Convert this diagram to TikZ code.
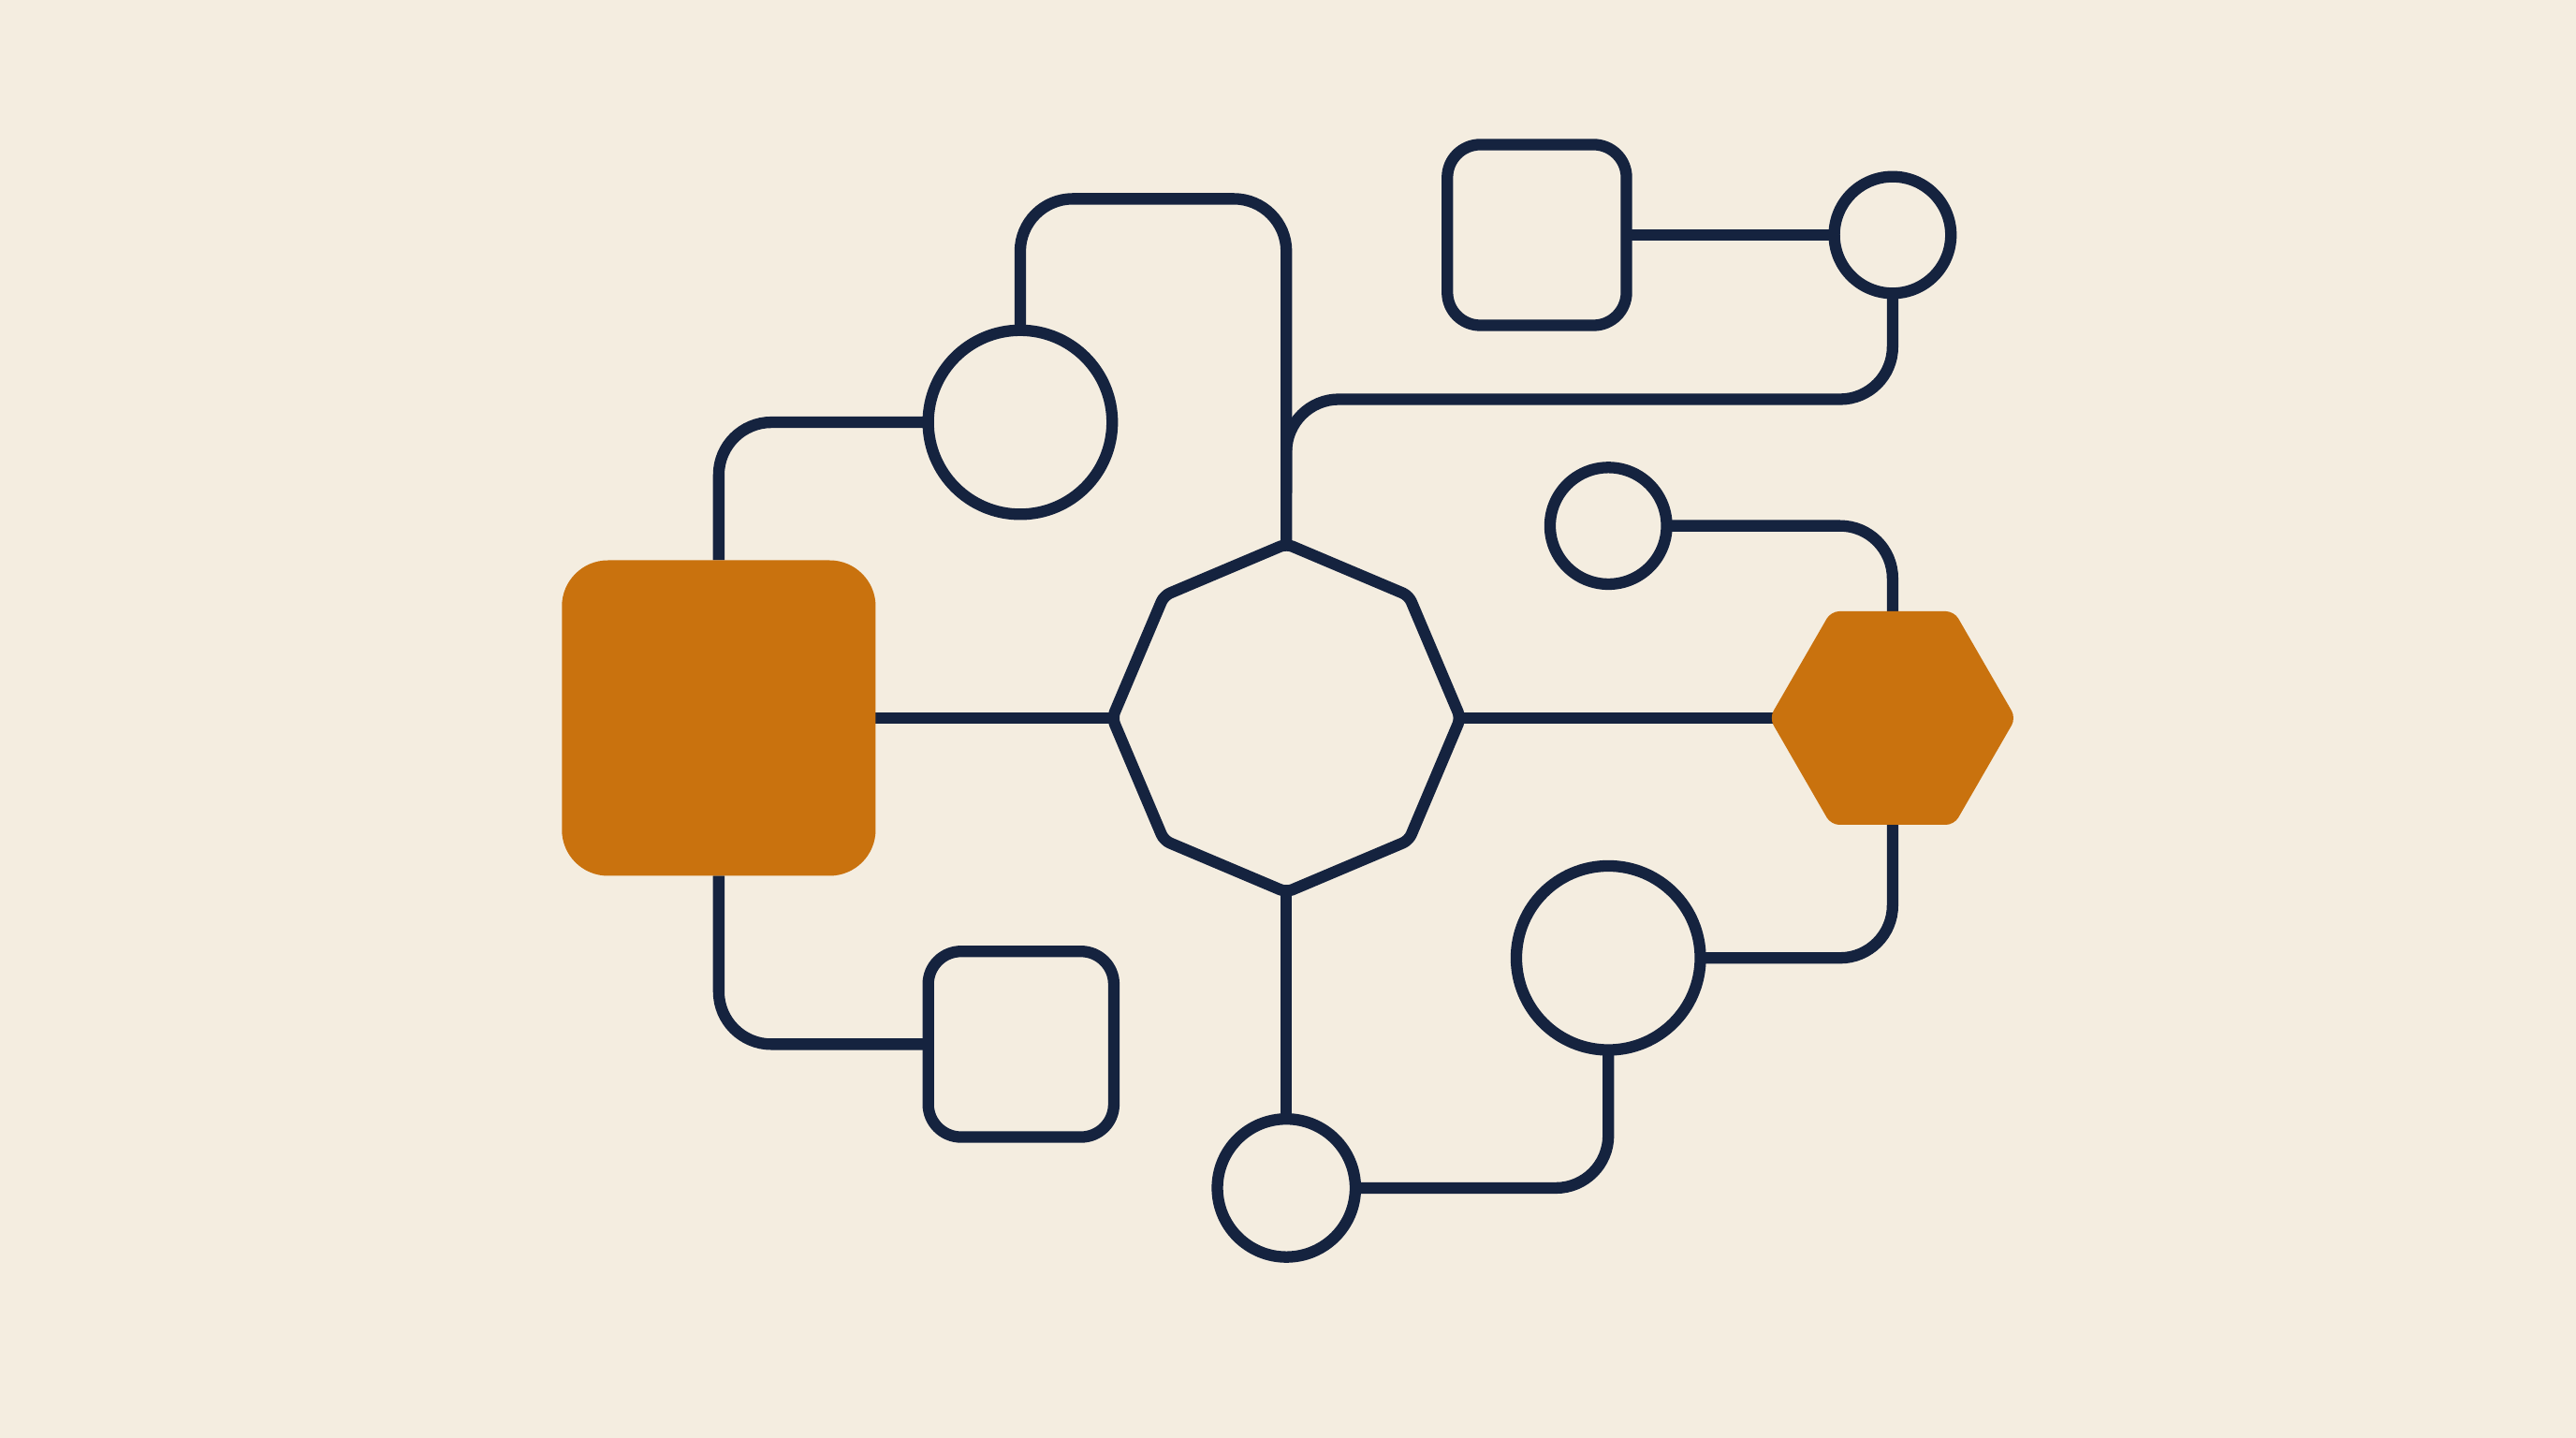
\documentclass[tikz,border=0pt]{standalone}
\usetikzlibrary{shapes.geometric}
\definecolor{bg}{HTML}{F4EDE0}
\definecolor{navy}{HTML}{15233F}
\definecolor{ochre}{HTML}{C9720E}
\pgfdeclarelayer{canvas}
\pgfdeclarelayer{back}
\pgfsetlayers{canvas,back,main}
\tikzset{
  ln/.style={draw=navy, line width=7pt},
  conn/.style={ln, rounded corners=32pt},
  ring/.style={circle, ln, fill=bg, inner sep=0pt, outer sep=0pt},
  rbox/.style={rectangle, ln, fill=bg, rounded corners=20pt, inner sep=0pt, outer sep=0pt},
}
\begin{document}
\begin{tikzpicture}[x=1pt,y=-1pt]
\begin{pgfonlayer}{canvas}
\fill[bg] (0,0) rectangle (1568,875);
\end{pgfonlayer}
\useasboundingbox (0,0) rectangle (1568,875);
% octagon vertices
\coordinate (octN) at (783,331);
\coordinate (octNE) at (857.5,362.5);
\coordinate (octE) at (889,437);
\coordinate (octSE) at (857.5,511.5);
\coordinate (octS) at (783,543);
\coordinate (octSW) at (708.5,511.5);
\coordinate (octW) at (677,437);
\coordinate (octNW) at (708.5,362.5);
% nodes
\node[rectangle, fill=ochre, rounded corners=28pt, minimum width=191pt, minimum height=192pt, inner sep=0pt, outer sep=0pt] (sq) at (437.5,437) {};
\node[regular polygon, regular polygon sides=6, fill=ochre, rounded corners=5pt, minimum size=150pt, inner sep=0pt, outer sep=0pt] (hex) at (1152,437) {};
\node[ring, minimum size=112pt] (A) at (621,257) {};
\node[ring, minimum size=84pt] (B) at (783,723) {};
\node[ring, minimum size=112pt] (C) at (979,583) {};
\node[ring, minimum size=71pt] (D) at (979,320) {};
\node[ring, minimum size=71pt] (E) at (1152,143) {};
\node[rbox, minimum width=113pt, minimum height=113pt] (rsq) at (621.5,635.5) {};
\node[rbox, minimum width=109pt, minimum height=110pt] (tsq) at (935.5,143) {};
\coordinate (t1) at (700,121);
\coordinate (t2) at (1000,243);
\coordinate (br) at (783,300);
% octagon
\draw[ln, fill=bg, rounded corners=4pt, line join=round] (octN) -- (octNE) -- (octE) -- (octSE) -- (octS) -- (octSW) -- (octW) -- (octNW) -- cycle;
% connectors
\begin{pgfonlayer}{back}
\draw[conn] (A.north) |- (t1) -| (octN);
\draw[conn] (br) |- (t2) -| (E.south);
\draw[conn] (A.west) -| (sq.north);
\draw[conn] (sq.east) -- (octW);
\draw[conn] (sq.south) |- (rsq.west);
\draw[conn] (octS) -- (B.north);
\draw[conn] (B.east) -| (C.south);
\draw[conn] (C.east) -| (hex.center);
\draw[conn] (D.east) -| (hex.center);
\draw[conn] (octE) -- (hex.center);
\draw[conn] (tsq.east) -- (E.west);
\end{pgfonlayer}
\end{tikzpicture}
\end{document}
